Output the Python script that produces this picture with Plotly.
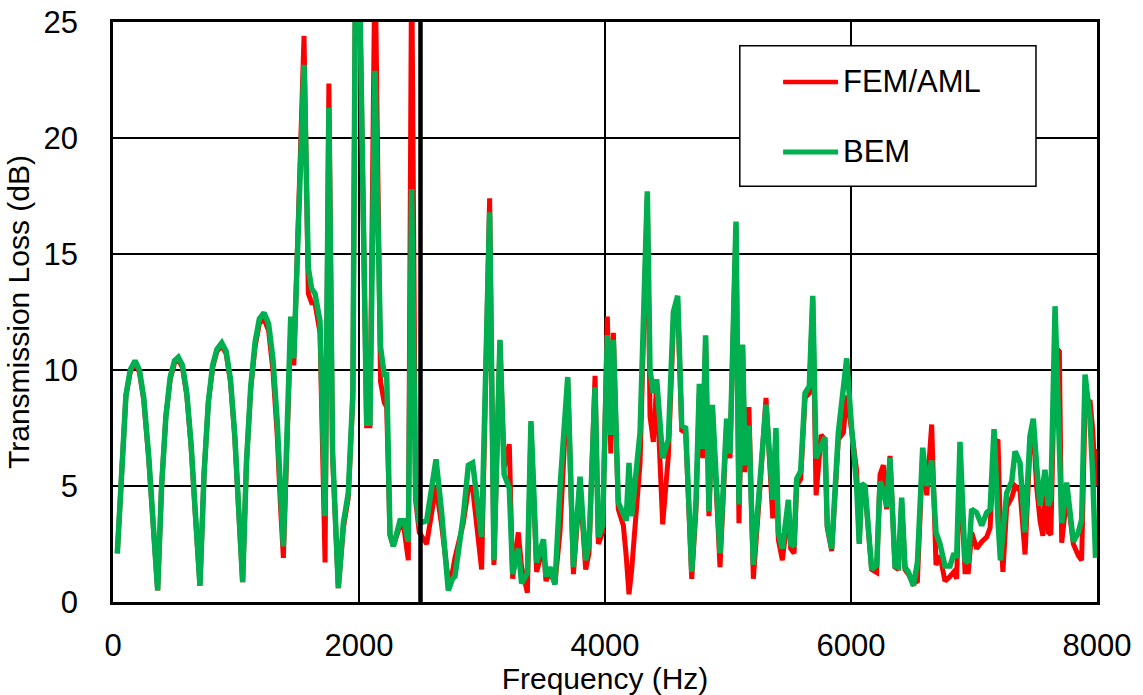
import plotly.graph_objects as go

freq_hz = [35, 70, 105, 140, 179, 215, 250, 290, 325, 363,
           395, 430, 465, 500, 531, 565, 600, 635, 670, 707,
           740, 775, 810, 845, 884, 920, 955, 990, 1020, 1054,
           1085, 1120, 1155, 1190, 1228, 1265, 1300, 1335, 1360, 1385,
           1445, 1470, 1553, 1588, 1615, 1642, 1683, 1724, 1755, 1785,
           1832, 1873, 1913, 1950, 1980, 2005, 2062, 2089, 2130, 2175,
           2205, 2225, 2252, 2279, 2333, 2365, 2401, 2428, 2460, 2490,
           2550, 2626, 2672, 2726, 2760, 2780, 2848, 2889, 2924, 2997,
           3062, 3097, 3146, 3180, 3222, 3249, 3295, 3322, 3369, 3398,
           3444, 3500, 3520, 3553, 3593, 3634, 3697, 3743, 3797, 3843,
           3870, 3919, 3946, 3981, 4019, 4047, 4068, 4108, 4149, 4172,
           4195, 4217, 4285, 4344, 4366, 4393, 4420, 4469, 4515, 4556,
           4591, 4624, 4656, 4705, 4740, 4767, 4794, 4818, 4845, 4873,
           4935, 4989, 5016, 5065, 5089, 5119, 5138, 5170, 5206, 5250,
           5309, 5364, 5390, 5409, 5442, 5491, 5510, 5537, 5558, 5591,
           5626, 5661, 5689, 5716, 5757, 5788, 5807, 5843, 5897, 5938,
           5965, 6005, 6046, 6067, 6087, 6114, 6168, 6209, 6236, 6263,
           6290, 6317, 6358, 6385, 6412, 6439, 6466, 6507, 6540, 6583,
           6616, 6656, 6691, 6724, 6764, 6805, 6837, 6859, 6886, 6927,
           6954, 6981, 7022, 7063, 7103, 7131, 7163, 7195, 7215, 7235,
           7266, 7307, 7334, 7374, 7415, 7455, 7482, 7509, 7537, 7560,
           7577, 7604, 7625, 7659, 7694, 7713, 7753, 7780, 7808, 7848,
           7875, 7903, 7943, 7965, 7988, 8000]

bem_db = [2.1, 6.0, 8.9, 10.0, 10.4, 10.0, 8.8, 6.3, 3.4, 0.5,
          5.0, 8.0, 9.7, 10.4, 10.55, 10.2, 9.0, 6.8, 3.8, 0.7,
          5.5, 8.6, 10.2, 10.9, 11.17, 10.8, 9.6, 7.2, 4.2, 0.86,
          6.0, 9.3, 11.2, 12.2, 12.47, 12.0, 10.5, 7.8, 5.0, 2.4,
          12.3, 10.5, 23.15, 14.4, 13.5, 13.3, 12.1, 3.7, 21.3, 6.5,
          0.6, 3.4, 4.7, 9.0, 35.0, 26.0, 7.7, 7.7, 22.9, 11.0,
          9.8, 9.8, 2.9, 2.4, 3.5, 3.5, 2.6, 17.8, 4.6, 3.4,
          3.5, 6.15, 3.85, 0.5, 1.0, 1.1, 3.7, 5.9, 6.0, 2.8,
          16.8, 1.8, 11.3, 5.5, 4.9, 1.2, 2.3, 0.8, 1.25, 7.8,
          1.7, 2.7, 1.1, 1.5, 0.75, 4.9, 9.7, 1.5, 5.4, 1.8,
          2.5, 9.25, 2.8, 3.3, 11.5, 7.2, 11.3, 4.3, 3.7, 3.5,
          6.0, 3.7, 7.3, 17.7, 10.0, 9.0, 9.6, 6.2, 7.0, 12.5,
          13.2, 7.6, 7.5, 1.3, 4.4, 9.4, 6.6, 11.5, 3.9, 8.5,
          2.1, 7.9, 6.4, 16.4, 4.2, 11.1, 5.9, 7.6, 1.6, 4.5,
          8.5, 4.4, 7.5, 3.0, 2.3, 4.4, 2.5, 2.4, 5.3, 5.65,
          9.0, 9.3, 13.2, 6.2, 6.8, 7.1, 3.3, 2.3, 7.3, 9.6,
          10.5, 7.5, 5.0, 2.5, 5.1, 5.0, 1.4, 1.6, 5.2, 4.8,
          4.1, 6.2, 1.55, 1.5, 4.5, 1.5, 1.3, 0.7, 1.7, 6.65,
          5.0, 6.1, 3.0, 2.5, 1.55, 1.55, 2.1, 1.9, 6.9, 1.8,
          1.7, 4.0, 3.85, 3.3, 3.85, 4.0, 7.45, 3.5, 1.8, 3.0,
          4.7, 5.2, 6.5, 6.0, 3.0, 7.15, 7.9, 5.9, 4.15, 5.0,
          5.7, 4.15, 4.5, 12.75, 5.8, 3.4, 5.15, 4.1, 2.6, 3.0,
          3.55, 9.8, 7.9, 5.5, 1.9, None]

fem_aml_db = [2.1, 6.0, 8.9, 9.9, 10.3, 9.9, 8.7, 6.2, 3.3, 0.5,
              5.0, 8.0, 9.6, 10.3, 10.45, 10.1, 8.9, 6.7, 3.7, 0.7,
              5.5, 8.6, 10.1, 10.8, 11.05, 10.7, 9.5, 7.1, 4.1, 0.86,
              6.0, 9.2, 11.0, 12.0, 12.2, 11.7, 10.0, 7.2, 4.3, 1.9,
              11.8, 10.2, 24.4, 13.3, 12.9, 12.9, 11.6, 1.7, 22.35, 6.3,
              0.6, 3.2, 4.5, 8.8, 35.0, 26.0, 7.6, 7.6, 28.0, 9.5,
              8.6, 8.4, 2.9, 2.4, 3.3, 3.2, 1.8, 28.0, 4.4, 3.0,
              2.5, 5.0, 3.3, 0.9, 1.3, 1.9, 3.4, 4.9, 4.9, 1.4,
              17.4, 1.6, 11.2, 5.8, 6.8, 1.0, 3.0, 1.5, 0.4, 7.6,
              1.3, 2.4, 0.9, 1.3, 0.8, 3.0, 9.6, 1.2, 5.0, 1.4,
              2.1, 9.75, 2.5, 3.0, 12.3, 6.4, 11.6, 4.0, 3.3, 2.0,
              0.33, 1.4, 6.0, 17.5, 8.0, 6.9, 9.4, 3.35, 6.3, 12.0,
              12.9, 7.4, 7.3, 1.0, 4.0, 9.0, 6.2, 11.3, 3.7, 8.3,
              1.5, 7.7, 6.2, 16.2, 3.4, 10.9, 5.6, 8.4, 1.0, 4.2,
              8.8, 3.6, 7.2, 2.7, 1.8, 4.0, 2.3, 2.1, 5.0, 5.3,
              8.8, 9.0, 13.0, 4.6, 7.2, 7.0, 3.2, 2.2, 7.0, 7.3,
              8.9, 7.4, 5.65, 2.6, 4.9, 4.8, 1.4, 1.27, 5.5, 5.9,
              4.0, 6.3, 1.5, 1.4, 4.3, 1.4, 1.2, 0.8, 0.9, 6.5,
              4.6, 7.65, 1.6, 2.0, 0.9, 1.1, 1.3, 1.0, 6.0, 1.3,
              1.3, 3.0, 2.3, 2.6, 2.8, 3.2, 6.8, 7.0, 3.0, 1.3,
              4.1, 4.5, 5.0, 4.8, 2.05, 6.7, 7.5, 5.0, 3.5, 2.85,
              5.0, 3.0, 2.9, 11.0, 10.8, 2.55, 4.5, 3.7, 2.5, 2.0,
              1.8, 8.5, 8.7, 7.45, 5.0, 6.6]

assert len(freq_hz) == len(bem_db) == len(fem_aml_db), (len(freq_hz), len(bem_db), len(fem_aml_db))

x_ticks = [0, 2000, 4000, 6000, 8000]
y_ticks = [0, 5, 10, 15, 20, 25]
divider_freq = 2500
series_names = ["FEM/AML", "BEM"]

RED = "#FF0000"
GREEN = "#00B050"
FONT = "Arial, Liberation Sans, sans-serif"

fig = go.Figure()
fig.add_trace(go.Scatter(x=freq_hz, y=fem_aml_db, mode="lines", name=series_names[0],
                         line=dict(color=RED, width=5), showlegend=False))
fig.add_trace(go.Scatter(x=freq_hz, y=bem_db, mode="lines", name=series_names[1],
                         line=dict(color=GREEN, width=5.5), showlegend=False))

fig.add_shape(type="line", x0=divider_freq, x1=divider_freq, xref="x",
              y0=0, y1=1, yref="paper", line=dict(color="black", width=4.5), layer="above")

# legend box (paper coordinates of the plot area)
fig.add_shape(type="rect", xref="paper", yref="paper", x0=0.637, x1=0.938, y0=0.717, y1=0.959,
              fillcolor="white", line=dict(color="black", width=1.5), layer="above")
legend_rows = [(series_names[0], RED, 4.5, 0.8966), (series_names[1], GREEN, 5, 0.7759)]
for name, col, w, yy in legend_rows:
    fig.add_shape(type="line", xref="paper", yref="paper", x0=0.681, x1=0.7368, y0=yy, y1=yy,
                  line=dict(color=col, width=w), layer="above")
    fig.add_annotation(xref="paper", yref="paper", x=0.7398, y=yy, text=name,
                       showarrow=False, xanchor="left", yanchor="middle",
                       font=dict(family=FONT, size=31, color="black"))

fig.update_layout(
    template="none",
    width=1143, height=695,
    margin=dict(l=113, r=46, t=22, b=93, autoexpand=False),
    paper_bgcolor="white", plot_bgcolor="white",
    font=dict(family=FONT, size=30, color="black"),
    showlegend=False,
    xaxis=dict(range=[0, 8000], tickvals=x_ticks, ticktext=[str(v) for v in x_ticks],
               automargin=False,
               showgrid=True, gridcolor="black", gridwidth=1.5,
               showline=True, linecolor="black", linewidth=2.5, mirror=True,
               ticks="", ticklabelstandoff=14, zeroline=False,
               tickfont=dict(family=FONT, size=31),
               title=dict(text="Frequency (Hz)", standoff=4,
                          font=dict(family=FONT, size=30))),
    yaxis=dict(range=[0, 25], tickvals=y_ticks, ticktext=[str(v) for v in y_ticks],
               automargin=False,
               showgrid=True, gridcolor="black", gridwidth=2,
               showline=True, linecolor="black", linewidth=2.5, mirror=True,
               ticks="", ticklabelstandoff=26, zeroline=False,
               tickfont=dict(family=FONT, size=31),
               title=dict(text="Transmission Loss (dB)", standoff=6,
                          font=dict(family=FONT, size=30))),
)

fig.write_html("out.html")
